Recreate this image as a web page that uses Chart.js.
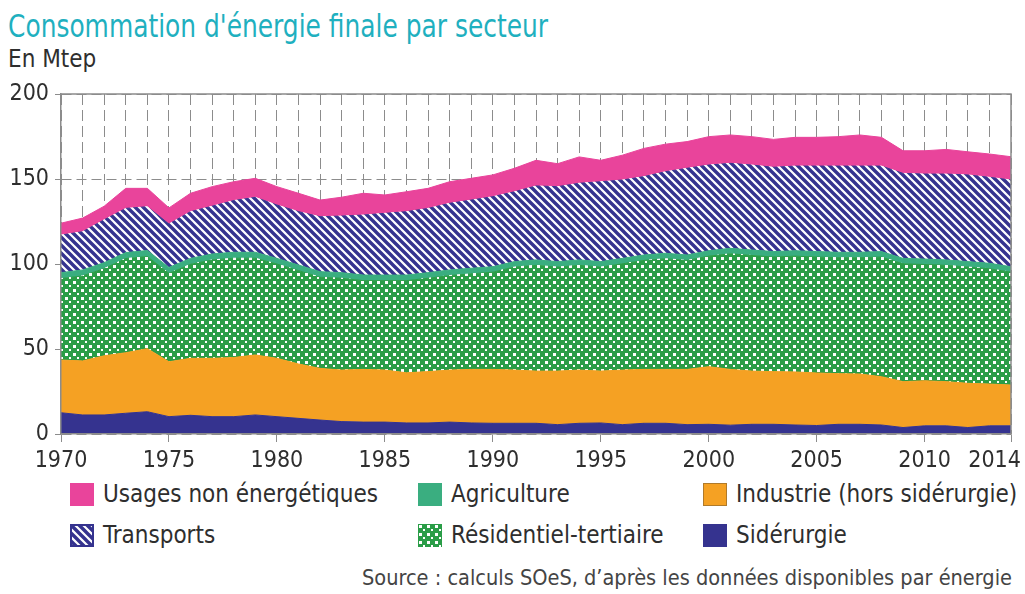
<!DOCTYPE html>
<html>
<head>
<meta charset="utf-8">
<script src="https://cdn.jsdelivr.net/npm/chart.js@4.4.1/dist/chart.umd.min.js"></script>
<style>
  body { margin: 0; width: 1025px; height: 594px; background: #fff; position: relative; overflow: hidden;
         font-family: "Liberation Sans Narrow", "DejaVu Sans Condensed", "Open Sans", sans-serif; color: #2e2e2e; }
  .txt { position: absolute; white-space: nowrap; transform-origin: 0 0; }
  #title { left: 8px; top: 10px; font-size: 32px; line-height: 32px; color: #1fb0bf; }
  #unit { left: 8px; top: 47px; font-size: 24px; line-height: 24px; }
  #wrap { position: absolute; left: 0; top: 0; width: 1025px; height: 480px; }
  .sw { position: absolute; width: 24px; height: 23px; }
  .lg { font-size: 24px; line-height: 24px; }
  #source { left: 362px; top: 567px; font-size: 22px; line-height: 22px; color: #444; }
</style>
</head>
<body>
<div id="title" class="txt">Consommation d'énergie finale par secteur</div>
<div id="unit" class="txt">En Mtep</div>
<div id="wrap"><canvas id="myChart"></canvas></div>
<div id="legend"></div>
<div id="source" class="txt">Source : calculs SOeS, d’après les données disponibles par énergie</div>

<script>
var years = [1970,1971,1972,1973,1974,1975,1976,1977,1978,1979,
             1980,1981,1982,1983,1984,1985,1986,1987,1988,1989,
             1990,1991,1992,1993,1994,1995,1996,1997,1998,1999,
             2000,2001,2002,2003,2004,2005,2006,2007,2008,2009,
             2010,2011,2012,2013,2014];
var xLabelYears = [1970,1975,1980,1985,1990,1995,2000,2005,2010,2014];
var yTicks = [0,50,100,150,200];

// Mtep
var siderurgie = [12.5,11.2,11.2,12.2,13.1,10.2,11.0,10.2,10.2,11.2,
                  10.2,9.2,8.2,7.3,7.0,7.0,6.5,6.5,7.0,6.5,
                  6.3,6.3,6.3,5.5,6.3,6.5,5.5,6.3,6.3,5.5,
                  5.7,5.2,5.7,5.7,5.3,5.0,5.7,5.7,5.3,3.8,
                  4.8,4.8,3.8,4.8,4.8];
var industrie = [31.0,31.8,34.8,35.6,37.1,32.3,33.5,34.3,34.8,35.3,
                 34.3,32.0,30.4,30.3,31.0,30.6,29.5,30.2,30.6,31.5,
                 31.7,31.3,30.7,31.5,31.3,30.5,32.1,31.7,31.7,32.5,
                 33.9,32.8,31.3,31.0,31.2,30.9,29.8,29.6,28.4,27.0,
                 26.5,26.0,26.0,24.6,24.0];
var residentiel = [47.9,50.0,51.3,55.4,54.2,52.0,55.3,57.9,58.4,56.9,
                   55.5,54.9,53.6,54.0,52.2,52.6,54.2,54.9,55.6,56.2,
                   57.2,60.6,62.2,61.2,61.6,61.2,62.5,64.1,65.1,64.1,
                   65.0,68.0,68.0,67.4,68.1,68.2,68.2,68.4,70.4,69.3,
                   68.4,68.4,68.4,67.8,66.4];
var agriculture = [3.5,3.5,3.5,3.5,3.5,3.5,3.5,3.5,3.5,3.5,
                   3.3,3.3,3.3,3.3,3.3,3.3,3.3,3.3,3.3,3.3,
                   3.2,3.2,3.2,3.2,3.2,3.2,3.2,3.2,3.2,3.2,
                   3.2,3.2,3.2,3.2,3.2,3.2,3.2,3.2,3.2,3.2,
                   3.2,3.2,3.2,3.2,3.2];
var transports = [22.1,22.5,25.2,26.0,25.8,25.5,27.5,28.1,30.4,32.3,
                  31.4,31.4,32.3,33.3,35.3,36.3,37.3,37.8,39.2,40.1,
                  41.2,41.1,43.5,44.1,45.1,47.0,46.1,46.1,48.0,51.0,
                  50.4,50.0,50.0,49.6,49.8,50.3,50.7,50.7,50.3,50.0,
                  50.0,50.5,51.0,50.6,51.0];
var usagesNonEnergetiques = [7.0,8.0,8.0,11.8,10.8,9.5,10.8,11.5,11.1,11.2,
                             10.8,10.8,9.8,11.1,12.8,10.8,11.7,11.8,12.7,12.8,
                             12.8,13.8,15.1,13.5,15.5,12.6,14.6,16.6,16.2,15.7,
                             16.7,16.7,16.7,16.4,16.9,16.9,17.3,18.3,16.9,13.3,
                             13.7,14.5,13.6,13.7,13.7];

const PINK = '#e9449b';
const TEAL = '#3aae80';
const ORANGE = '#f5a123';
const NAVY = '#35338f';
const GREEN = '#2a9d47';
const GRID = '#8c8c8c';
const FONT = '"Liberation Sans Narrow", "DejaVu Sans Condensed", "Open Sans", sans-serif';

function stripePattern() {
  var c = document.createElement('canvas');
  c.width = 8; c.height = 8;
  var g = c.getContext('2d');
  g.fillStyle = '#fff';
  g.fillRect(0, 0, 8, 8);
  g.strokeStyle = NAVY;
  g.lineWidth = 3.4;
  g.beginPath();
  g.moveTo(-2, -2); g.lineTo(10, 10);
  g.moveTo(-10, -2); g.lineTo(2, 10);
  g.moveTo(6, -2); g.lineTo(18, 10);
  g.stroke();
  return g.createPattern(c, 'repeat');
}

function dotPattern() {
  var c = document.createElement('canvas');
  c.width = 8; c.height = 8;
  var g = c.getContext('2d');
  g.fillStyle = GREEN;
  g.fillRect(0, 0, 8, 8);
  g.fillStyle = '#fff';
  g.fillRect(1, 1, 3, 3);
  g.fillRect(5, 5, 2, 2);
  return g.createPattern(c, 'repeat');
}

var stripes = stripePattern();
var dots = dotPattern();

// top + right frame of the plot
var framePlugin = {
  id: 'frame',
  afterDatasetsDraw: function(chart) {
    var a = chart.chartArea, ctx = chart.ctx;
    ctx.save();
    ctx.strokeStyle = GRID;
    ctx.lineWidth = 1.5;
    ctx.beginPath();
    ctx.moveTo(a.left, a.top);
    ctx.lineTo(a.right, a.top);
    ctx.lineTo(a.right, a.bottom);
    ctx.stroke();
    ctx.restore();
  }
};

function area(label, data, fill, bg) {
  return { label: label, data: data, fill: fill, backgroundColor: bg, borderColor: bg,
           borderWidth: 1, pointRadius: 0, tension: 0 };
}

var ctx = document.getElementById('myChart').getContext('2d');
var myChart = new Chart(ctx, {
  type: 'line',
  data: {
    labels: years,
    datasets: [
      area('Sidérurgie', siderurgie, 'origin', NAVY),
      area('Industrie (hors sidérurgie)', industrie, '-1', ORANGE),
      area('Résidentiel-tertiaire', residentiel, '-1', dots),
      area('Agriculture', agriculture, '-1', TEAL),
      area('Transports', transports, '-1', stripes),
      area('Usages non énergétiques', usagesNonEnergetiques, '-1', PINK)
    ]
  },
  options: {
    responsive: true,
    maintainAspectRatio: false,
    animation: false,
    layout: { padding: { top: 94, right: 14, left: 0, bottom: 0 } },
    plugins: { legend: { display: false }, tooltip: { enabled: false } },
    scales: {
      x: {
        type: 'category',
        offset: false,
        grid: {
          color: GRID, lineWidth: 1, tickLength: 8,
          tickColor: function(c) {
            return xLabelYears.indexOf(years[c.index]) >= 0 ? GRID : 'rgba(0,0,0,0)';
          }
        },
        border: { color: GRID, width: 1.5, dash: [11, 5], z: 1 },
        ticks: {
          autoSkip: false, maxRotation: 0, minRotation: 0, padding: 5,
          color: '#2e2e2e', font: { family: FONT, size: 23 },
          callback: function(v, i) {
            var y = years[i];
            if (y === 2014) return '2014\u00a0\u00a0\u00a0\u00a0\u00a0';
            return xLabelYears.indexOf(y) >= 0 ? String(y) : '';
          }
        },
        afterFit: function(s) { s.height = 46; s.paddingLeft = 0; s.paddingRight = 0; }
      },
      y: {
        stacked: true,
        min: 0, max: 200,
        afterBuildTicks: function(s) { s.ticks = yTicks.map(function(v) { return { value: v }; }); },
        grid: { color: GRID, lineWidth: 1, tickLength: 6 },
        border: { color: GRID, width: 1.5, dash: [10, 5], z: 1 },
        ticks: { padding: 6, color: '#2e2e2e', font: { family: FONT, size: 23 } },
        afterFit: function(s) { s.width = 61; }
      }
    }
  },
  plugins: [framePlugin]
});

// legend, laid out like the original
var legendItems = [
  { text: 'Usages non énergétiques', fill: PINK, x: 70, y: 483 },
  { text: 'Agriculture', fill: TEAL, x: 418, y: 483 },
  { text: 'Industrie (hors sidérurgie)', fill: ORANGE, x: 703, y: 483 },
  { text: 'Transports', fill: 'stripes', x: 70, y: 524 },
  { text: 'Résidentiel-tertiaire', fill: 'dots', x: 418, y: 524 },
  { text: 'Sidérurgie', fill: NAVY, x: 703, y: 524 }
];
var legendDiv = document.getElementById('legend');
legendItems.forEach(function(it) {
  var c = document.createElement('canvas');
  c.width = 24; c.height = 23;
  c.className = 'sw';
  c.style.left = it.x + 'px';
  c.style.top = it.y + 'px';
  var g = c.getContext('2d');
  g.fillStyle = it.fill === 'stripes' ? stripes : it.fill === 'dots' ? dots : it.fill;
  g.fillRect(0, 0, 24, 23);
  if (it.fill === 'stripes') { g.strokeStyle = NAVY; g.lineWidth = 2; g.strokeRect(1, 1, 22, 21); }
  if (it.fill === ORANGE) { g.strokeStyle = '#b07a2a'; g.lineWidth = 1; g.strokeRect(0.5, 0.5, 23, 22); }
  legendDiv.appendChild(c);
  var t = document.createElement('div');
  t.className = 'txt lg';
  t.textContent = it.text;
  t.style.left = (it.x + 33) + 'px';
  t.style.top = (it.y - 1) + 'px';
  legendDiv.appendChild(t);
});

// squeeze the wide lines to the width they have in the original
function fitWidth(id, w) {
  var el = document.getElementById(id);
  var r = w / el.getBoundingClientRect().width;
  el.style.transform = 'scaleX(' + r + ')';
}
fitWidth('title', 540);
fitWidth('source', 650);
</script>
</body>
</html>
